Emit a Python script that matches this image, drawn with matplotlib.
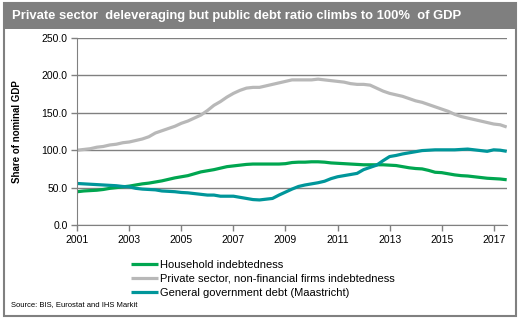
import matplotlib
matplotlib.use('Agg')
import matplotlib.pyplot as plt
from matplotlib.patches import Rectangle

plt.rcParams['font.family'] = ['Liberation Sans', 'DejaVu Sans']

# quarterly series, 2001Q1 .. 2017Q3, % of GDP
years = [2001, 2003, 2005, 2007, 2009, 2011, 2013, 2015, 2017]
household = [44.5, 45.5, 46, 46.5, 47.5, 49, 50, 51, 52, 53.5,
             55, 56, 57.5, 59, 61, 63, 64.5, 66, 68.5, 71,
             72.5, 74, 76, 78, 79, 80, 81, 81.5, 81.5, 81.5,
             81.5, 81.5, 82, 83.5, 84, 84, 84.5, 84.5, 84, 83,
             82.5, 82, 81.5, 81, 80.5, 80.5, 80.5, 80.5, 80, 79.5,
             78, 76.5, 75.5, 75, 73, 70.5, 70, 68.5, 67, 66,
             65.5, 64.5, 63.5, 62.5, 62, 61.5, 60.5]
nfc = [100, 101, 102, 104, 105, 107, 108, 110, 111, 113,
       115, 118, 123, 126, 129, 132, 136, 139, 143, 147,
       153, 160, 165, 171, 176, 180, 183, 184, 184, 186,
       188, 190, 192, 194, 194, 194, 194, 195, 194, 193,
       192, 191, 189, 188, 188, 187, 183, 179, 176, 174,
       172, 169, 166, 164, 161, 158, 155, 152, 148, 145,
       143, 141, 139, 137, 135, 134, 131]
govt = [55.5, 55, 54.5, 54, 53.5, 53, 52.5, 51.5, 51, 49,
        48, 47.5, 47, 45.5, 45, 44.5, 43.5, 43, 42, 41,
        40, 40, 38.5, 38.5, 38.5, 37, 35.5, 34, 33.5, 34.5,
        35.5, 40, 44, 48, 51.5, 53.5, 55, 56.5, 58.5, 62,
        64.5, 66, 67.5, 69, 74, 77, 80, 86, 91.5, 93,
        95, 96.5, 98, 99.5, 100, 100.5, 100.5, 100.5, 100.5, 101,
        101.5, 100.5, 99.5, 98.5, 100.5, 100, 98.5]

labels = ['Household indebtedness',
          'Private sector, non-financial firms indebtedness',
          'General government debt (Maastricht)']
colors = ['#00A650', '#B8B8B8', '#00969A']

W, H = 521, 323
fig = plt.figure(figsize=(W / 100, H / 100), dpi=100)
fig.patch.set_facecolor('white')

# outer frame and title bar
fig.add_artist(Rectangle((3.5 / W, 1 - 316 / H), 512 / W, 313 / H,
                         transform=fig.transFigure, fill=False,
                         edgecolor='#808080', linewidth=1.5))
fig.add_artist(Rectangle((3.5 / W, 1 - 29 / H), 512 / W, 26 / H,
                         transform=fig.transFigure, facecolor='#7F7F7F',
                         edgecolor='none'))
fig.text(12 / W, 1 - 16 / H,
         'Private sector  deleveraging but public debt ratio climbs to 100%  of GDP',
         color='white', fontsize=9.4, fontweight='bold', va='center', ha='left')

ax_w = 506.7 - 77.3
ax = fig.add_axes([77.3 / W, 1 - 225 / H, ax_w / W, (225 - 38) / H])
x = list(range(len(nfc)))
lines = []
for series, c in zip([household, nfc, govt], colors):
    ln, = ax.plot(x, series, color=c, linewidth=2.3, solid_capstyle='butt')
    lines.append(ln)

ax.set_xlim(0, len(nfc) - 1)
ax.set_ylim(0, 250)
ax.set_yticks(range(0, 251, 50))
ax.set_yticklabels([f'{v:.1f}' for v in range(0, 251, 50)])
ax.set_xticks([(y - 2001) * 4 for y in years])
ax.set_xticklabels([str(y) for y in years])
ax.grid(axis='y', color='#808080', linewidth=1)
ax.set_axisbelow(True)
for side in ['top', 'right']:
    ax.spines[side].set_visible(False)
for side in ['left', 'bottom']:
    ax.spines[side].set_color('#808080')
ax.tick_params(axis='both', direction='out', length=4, color='#808080',
               labelsize=7.5, labelcolor='black', width=1)
ax.tick_params(axis='y', pad=3)
ax.tick_params(axis='x', pad=3)
ax.set_ylabel('Share of nominal GDP', fontsize=7, fontweight='bold')
ax.yaxis.set_label_coords(-(77.3 - 22) / ax_w, 0.5)

fig.legend(lines, labels, loc='upper left', bbox_to_anchor=(131 / W, 1 - 260 / H),
           frameon=False, fontsize=8, handlelength=2.45, handletextpad=0.2,
           labelspacing=0.35, borderpad=0, borderaxespad=0)

fig.text(11 / W, 1 - 305 / H, 'Source: BIS, Eurostat and IHS Markit',
         fontsize=5.5, va='center', ha='left')

fig.savefig('out.png', dpi=100)
